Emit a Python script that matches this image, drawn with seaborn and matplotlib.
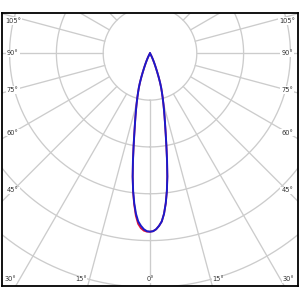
import numpy as np
import pandas as pd
import matplotlib
matplotlib.use("Agg")
import matplotlib.pyplot as plt
import seaborn as sns

# polar intensity data (units = grid rings), gamma angle in degrees
gamma = list(range(0, 31)) + [35, 40, 50, 60, 70, 80, 90]
c90_side = [3.81, 3.80, 3.76, 3.69, 3.60, 3.44, 3.22, 2.96, 2.66, 2.33,
            2.02, 1.76, 1.55, 1.38, 1.23, 1.10, 0.98, 0.87, 0.77, 0.66,
            0.54, 0.43, 0.34, 0.27, 0.21, 0.16, 0.12, 0.09, 0.06, 0.04,
            0.03, 0.01, 0, 0, 0, 0, 0, 0]
c270_side = list(c90_side)
c180_side = list(c90_side)
c0_side = [3.81, 3.81, 3.79, 3.74, 3.65, 3.48, 3.24, 2.97, 2.66, 2.33,
           2.02, 1.76, 1.55, 1.38, 1.23, 1.10, 0.98, 0.87, 0.77, 0.66,
           0.54, 0.43, 0.34, 0.27, 0.21, 0.16, 0.12, 0.09, 0.06, 0.04,
           0.03, 0.01, 0, 0, 0, 0, 0, 0]

bottom_labels = [0, 15, 30]
side_labels = [45, 60, 75, 90, 105]
ring_radii = [1, 2, 3, 4, 5, 6, 7]


def plane(left, right, name):
    g = np.array(gamma, dtype=float)
    ang = np.concatenate([-g[::-1], g[1:]])
    r = np.concatenate([np.array(left)[::-1], np.array(right)[1:]])
    t = np.radians(ang)
    return pd.DataFrame({"x": r * np.sin(t), "y": -r * np.cos(t), "plane": name})


df_red = plane(c0_side, c180_side, "C0 - C180")
df_blue = plane(c270_side, c90_side, "C90 - C270")

sns.set_style("white")
fig = plt.figure(figsize=(3, 3), dpi=100)
ax = fig.add_axes([2 / 300, 14 / 300, 296 / 300, 272.7 / 300])

grid_col = "#cccccc"
tt = np.linspace(0, 2 * np.pi, 400)
for rr in ring_radii:
    ax.plot(rr * np.sin(tt), -rr * np.cos(tt), color=grid_col, lw=0.95, zorder=1)
for a in range(0, 360, 15):
    t = np.radians(a)
    ax.plot([np.sin(t), 9 * np.sin(t)], [-np.cos(t), -9 * np.cos(t)], color=grid_col, lw=0.95, zorder=1)

sns.lineplot(data=df_red, x="x", y="y", sort=False, estimator=None, color="#e0103a", lw=1.3, ax=ax, zorder=3)
sns.lineplot(data=df_blue, x="x", y="y", sort=False, estimator=None, color="#1a1acc", lw=1.4, ax=ax, zorder=4)

ymax, ymin = 0.855, -4.97
xlim = 3.162
ax.set_xlim(-xlim, xlim)
ax.set_ylim(ymin, ymax)

txt = dict(fontsize=4.8, color="#333333", va="center", zorder=5,
           bbox=dict(facecolor="white", edgecolor="none", pad=0.6))
yb = -4.83
for a in bottom_labels:
    if a == 0:
        ax.text(0, yb, "0°", ha="center", **txt)
    else:
        xl = abs(yb) * np.tan(np.radians(a))
        ax.text(-xl - 0.06, yb, f"{a}°", ha="right", **txt)
        ax.text(xl + 0.04, yb, f"{a}°", ha="left", **txt)
xs = 2.93
for a in side_labels:
    yl = -xs / np.tan(np.radians(a))
    yl = min(yl, ymax - 0.165)
    ax.text(-xs, yl, f"{a}°", ha="center", **txt)
    ax.text(xs, yl, f"{a}°", ha="center", **txt)

ax.set_xticks([])
ax.set_yticks([])
ax.set_xlabel("")
ax.set_ylabel("")
for s in ax.spines.values():
    s.set_color("black")
    s.set_linewidth(1.3)
if ax.get_legend():
    ax.get_legend().remove()

fig.savefig("out.png", dpi=100, facecolor="white")
